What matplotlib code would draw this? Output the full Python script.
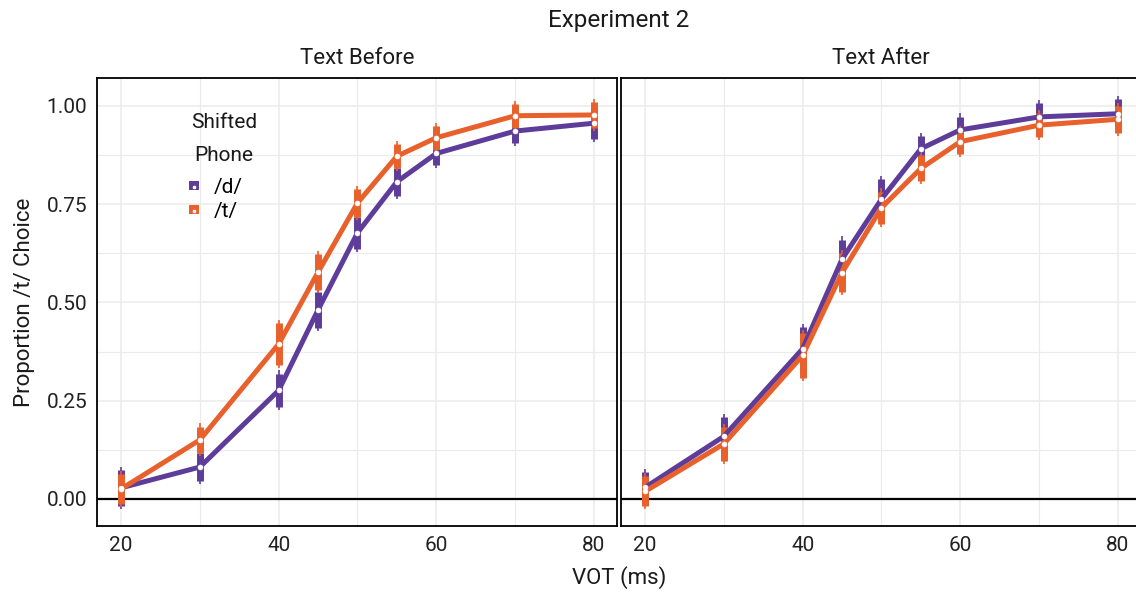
import matplotlib
matplotlib.use("Agg")
import matplotlib.pyplot as plt
import matplotlib.patches as mpatches
from matplotlib.lines import Line2D
from matplotlib.legend_handler import HandlerTuple

plt.rcParams["font.family"] = ["Roboto", "DejaVu Sans"]

# data
vot = [20, 30, 40, 45, 50, 55, 60, 70, 80]

before_d = [0.028, 0.081, 0.276, 0.481, 0.677, 0.807, 0.879, 0.936, 0.956]
before_d_err = [0.045, 0.036, 0.043, 0.045, 0.040, 0.036, 0.030, 0.030, 0.040]
before_t = [0.025, 0.150, 0.394, 0.577, 0.753, 0.872, 0.919, 0.975, 0.977]
before_t_err = [0.038, 0.034, 0.053, 0.046, 0.035, 0.030, 0.030, 0.030, 0.033]

after_d = [0.029, 0.159, 0.382, 0.610, 0.763, 0.891, 0.939, 0.972, 0.980]
after_d_err = [0.040, 0.050, 0.055, 0.050, 0.050, 0.033, 0.034, 0.036, 0.037]
after_t = [0.019, 0.140, 0.365, 0.576, 0.741, 0.841, 0.909, 0.951, 0.966]
after_t_err = [0.038, 0.043, 0.057, 0.049, 0.041, 0.033, 0.032, 0.030, 0.034]

panels = ["Text Before", "Text After"]
phones = ["/d/", "/t/"]
colors = {"/d/": "#5e3c99", "/t/": "#e8612c"}
data = {
    "Text Before": {"/d/": (before_d, before_d_err), "/t/": (before_t, before_t_err)},
    "Text After": {"/d/": (after_d, after_d_err), "/t/": (after_t, after_t_err)},
}

W, H = 1136, 597
fig = plt.figure(figsize=(W / 100, H / 100), dpi=100)
fig.patch.set_facecolor("white")

ax_w = 520 / W
ax_h = 448 / H
bottom = 71 / H
lefts = [97 / W, 621 / W]

axes = []
for i, panel in enumerate(panels):
    ax = fig.add_axes([lefts[i], bottom, ax_w, ax_h])
    axes.append(ax)
    ax.set_xlim(16.96, 82.92)
    ax.set_ylim(-0.069, 1.071)
    ax.set_xticks([20, 40, 60, 80])
    ax.set_xticks([30, 50, 70], minor=True)
    ax.set_yticks([0, 0.25, 0.5, 0.75, 1.0])
    ax.set_yticks([0.125, 0.375, 0.625, 0.875], minor=True)
    ax.grid(True, which="major", color="#ebebeb", lw=1.1)
    ax.grid(True, which="minor", color="#ebebeb", lw=0.8)
    ax.set_axisbelow(True)
    ax.tick_params(which="both", length=0, labelsize=15, colors="#222222", pad=7)
    for s in ax.spines.values():
        s.set_color("black")
        s.set_linewidth(1.3)
    ax.axhline(0, color="black", lw=1.6, zorder=1.5)
    if i == 0:
        ax.set_yticklabels(["0.00", "0.25", "0.50", "0.75", "1.00"])
    else:
        ax.set_yticklabels([])
    ax.set_title(panel, fontsize=16, pad=10, color="#1a1a1a")

    for phone in phones:
        y, e = data[panel][phone]
        c = colors[phone]
        lo = [a - b for a, b in zip(y, e)]
        hi = [a + b for a, b in zip(y, e)]
        # thin whiskers a bit longer than the thick bar
        ax.vlines(vot, [v - 0.008 for v in lo], [v + 0.008 for v in hi], color=c, lw=1.2, zorder=2)
        ax.vlines(vot, lo, hi, color=c, lw=5, zorder=2)
        ax.plot(vot, y, color=c, lw=3.6, zorder=2.5, solid_capstyle="butt")
    for phone in phones:
        y, e = data[panel][phone]
        ax.plot(vot, y, ls="none", marker="o", ms=3.6, mfc="white", mec="white", mew=0.4, zorder=3)

axes[0].set_ylabel("Proportion /t/ Choice", fontsize=16, labelpad=8, color="#1a1a1a")
fig.text((97 + 1141) / 2 / W, 1 - 578 / H, "VOT (ms)", ha="center", va="center", fontsize=16, color="#1a1a1a")
fig.text((97 + 1141) / 2 / W, 1 - 20 / H, "Experiment 2", ha="center", va="center", fontsize=17.5, color="#1a1a1a")

# legend title drawn as text so its spacing matches
ax0 = axes[0]
ax0.text(0.244, 0.90, "Shifted", transform=ax0.transAxes, ha="center", va="center", fontsize=15, color="#1a1a1a")
ax0.text(0.244, 0.828, "Phone", transform=ax0.transAxes, ha="center", va="center", fontsize=15, color="#1a1a1a")

handles = []
for phone in phones:
    p = mpatches.Rectangle((0, 0), 1, 1, facecolor=colors[phone], edgecolor="none")
    d = Line2D([], [], ls="none", marker="s", ms=2.0, mfc="white", mec="white")
    handles.append((p, d))
leg = ax0.legend(handles, phones, loc="center left", bbox_to_anchor=(0.177, 0.729),
                 frameon=False, fontsize=15, borderpad=0, borderaxespad=0,
                 handlelength=0.5, handleheight=0.25, handletextpad=0.67,
                 labelspacing=0.25, handler_map={tuple: HandlerTuple(ndivide=1)})

fig.savefig("out.png", dpi=100, facecolor="white")
